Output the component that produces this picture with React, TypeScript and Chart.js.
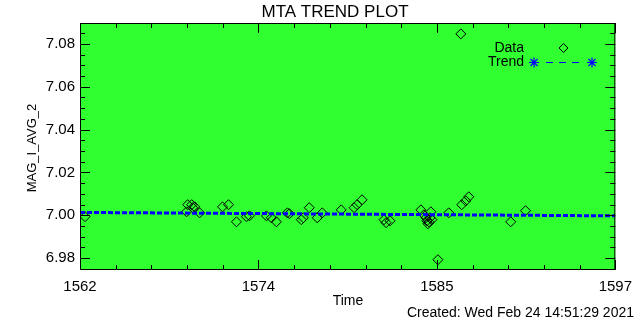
import { useEffect, useRef } from 'react';
import { Chart, registerables } from 'chart.js';

Chart.register(...registerables);

const titleText = 'MTA TREND PLOT';
const xAxisTitle = 'Time';
const yAxisTitle = 'MAG_I_AVG_2';
const createdText = 'Created: Wed Feb 24 14:51:29 2021';
const legendLabels = ['Data', 'Trend'];

const xMin = 1562;
const xMax = 1597;
const yMin = 6.9744;
const yMax = 7.0898;
const xTickValues = [1562, 1573.667, 1585.333, 1597];
const xTickLabels = ['1562', '1574', '1585', '1597'];
const yTickValues = [6.98, 7.0, 7.02, 7.04, 7.06, 7.08];

const dataTime = [
  1562.33, 1568.97, 1569.04, 1569.3, 1569.5, 1569.37, 1569.82, 1571.32, 1571.71, 1572.23,
  1572.88, 1573.08, 1574.19, 1574.51, 1574.84, 1575.56, 1575.69, 1576.47, 1576.6, 1576.99,
  1577.51, 1577.84, 1579.08, 1579.92, 1580.12, 1580.44, 1581.88, 1582.01, 1582.27, 1584.29,
  1584.49, 1584.62, 1584.68, 1584.81, 1584.94, 1584.88, 1585.01, 1584.75, 1585.4, 1586.11,
  1586.96, 1587.22, 1587.42, 1586.9, 1590.16, 1591.13,
];
const dataMag = [
  6.9993, 7.0016, 7.0049, 7.0049, 7.0039, 7.0035, 7.0011, 7.0039, 7.0049, 6.9969,
  6.9993, 6.9997, 6.9997, 6.9988, 6.9969, 7.0011, 7.0007, 6.9979, 6.9988, 7.0035,
  6.9988, 7.0011, 7.0025, 7.0035, 7.0049, 7.0072, 6.9979, 6.9965, 6.9974, 7.0025,
  7.0002, 6.9988, 6.9974, 6.9969, 7.0016, 6.9988, 6.9979, 6.996, 6.9792, 7.0011,
  7.0049, 7.0067, 7.0086, 7.0847, 6.9969, 7.0021,
];
const trendTime = [1562, 1597];
const trendMag = [7.0013, 6.9997];

const FONT = 'Liberation Sans, Arial, sans-serif';

function drawStar(ctx: CanvasRenderingContext2D, cx: number, cy: number, r: number) {
  ctx.beginPath();
  for (let i = 0; i < 4; i++) {
    const a = (i * Math.PI) / 4;
    ctx.moveTo(cx - r * Math.cos(a), cy - r * Math.sin(a));
    ctx.lineTo(cx + r * Math.cos(a), cy + r * Math.sin(a));
  }
  ctx.stroke();
}

const idlPlugin = {
  id: 'idlStyle',
  beforeDraw(chart: any) {
    const { ctx, chartArea } = chart;
    ctx.save();
    ctx.fillStyle = '#ffffff';
    ctx.fillRect(0, 0, chart.width, chart.height);
    ctx.fillStyle = '#30ff30';
    ctx.fillRect(chartArea.left, chartArea.top, chartArea.right - chartArea.left, chartArea.bottom - chartArea.top);
    ctx.restore();
  },
  afterDraw(chart: any) {
    const { ctx, chartArea, scales } = chart;
    const { left, right, top, bottom } = chartArea;
    const x = scales.x;
    const y = scales.y;
    ctx.save();
    ctx.strokeStyle = '#000000';
    ctx.lineWidth = 1;
    ctx.strokeRect(left + 0.5, top + 0.5, right - left - 1, bottom - top - 1);
    ctx.beginPath();
    for (let i = 0; i <= 15; i++) {
      const v = xMin + (i * (xMax - xMin)) / 15;
      const px = Math.round(x.getPixelForValue(v)) + 0.5;
      const len = i % 5 === 0 ? 10 : 5;
      ctx.moveTo(px, bottom);
      ctx.lineTo(px, bottom - len);
      ctx.moveTo(px, top);
      ctx.lineTo(px, top + len);
    }
    for (let k = 0; k <= 30; k++) {
      const v = 6.975 + k * 0.005;
      if (v < yMin || v > yMax) continue;
      const py = Math.round(y.getPixelForValue(v)) + 0.5;
      const major = yTickValues.some((t) => Math.abs(t - v) < 1e-6);
      const len = major ? 10 : 5;
      ctx.moveTo(left, py);
      ctx.lineTo(left + len, py);
      ctx.moveTo(right, py);
      ctx.lineTo(right - len, py);
    }
    ctx.stroke();

    ctx.fillStyle = '#000000';
    ctx.textBaseline = 'middle';
    ctx.textAlign = 'center';
    ctx.font = `17px ${FONT}`;
    ctx.fillText(titleText, 335, 12);
    ctx.font = `14px ${FONT}`;
    ctx.fillText(xAxisTitle, 348, 301);
    ctx.textAlign = 'right';
    ctx.fillText(createdText, 634, 313);
    ctx.save();
    ctx.translate(32, 148);
    ctx.rotate(-Math.PI / 2);
    ctx.textAlign = 'center';
    ctx.font = `13px ${FONT}`;
    ctx.fillText(yAxisTitle, 0, 0);
    ctx.restore();

    ctx.font = `14px ${FONT}`;
    ctx.textAlign = 'right';
    ctx.fillText(legendLabels[0], 524, 48);
    ctx.fillText(legendLabels[1], 524, 62);
    ctx.beginPath();
    ctx.moveTo(563.5, 43.5);
    ctx.lineTo(568, 48);
    ctx.lineTo(563.5, 52.5);
    ctx.lineTo(559, 48);
    ctx.closePath();
    ctx.stroke();
    ctx.strokeStyle = '#0000ff';
    ctx.lineWidth = 1.2;
    drawStar(ctx, 534, 62.5, 5);
    drawStar(ctx, 592, 62.5, 5);
    ctx.setLineDash([7, 6]);
    ctx.beginPath();
    ctx.moveTo(546, 62.5);
    ctx.lineTo(580, 62.5);
    ctx.stroke();
    ctx.restore();
  },
};

export default function App() {
  const ref = useRef<HTMLCanvasElement>(null);
  useEffect(() => {
    document.body.style.margin = '0';
    const chart = new Chart(ref.current!, {
      type: 'scatter',
      data: {
        datasets: [
          {
            label: 'Trend',
            data: trendTime.map((t, i) => ({ x: t, y: trendMag[i] })),
            showLine: true,
            borderColor: '#0000ff',
            borderWidth: 3,
            borderDash: [5, 2],
            pointRadius: 0,
          },
          {
            label: 'Data',
            data: dataTime.map((t, i) => ({ x: t, y: dataMag[i] })),
            pointStyle: 'rectRot',
            pointRadius: 5,
            borderColor: '#000000',
            borderWidth: 1,
            backgroundColor: 'rgba(0,0,0,0)',
          },
        ],
      },
      options: {
        responsive: false,
        animation: false,
        devicePixelRatio: 1,
        layout: { padding: { top: 23, right: 23, left: 0, bottom: 0 } },
        plugins: { legend: { display: false }, tooltip: { enabled: false }, title: { display: false } },
        scales: {
          x: {
            type: 'linear',
            min: xMin,
            max: xMax,
            afterBuildTicks: (s: any) => {
              s.ticks = xTickValues.map((v) => ({ value: v }));
            },
            afterFit: (s: any) => {
              s.height = 50;
            },
            ticks: {
              callback: (_v: any, i: number) => xTickLabels[i],
              color: '#000000',
              font: { family: FONT, size: 15 },
              padding: 8,
              maxRotation: 0,
              autoSkip: false,
            },
            grid: { display: false, drawTicks: false },
            border: { display: false },
          },
          y: {
            type: 'linear',
            min: yMin,
            max: yMax,
            afterBuildTicks: (s: any) => {
              s.ticks = yTickValues.map((v) => ({ value: v }));
            },
            afterFit: (s: any) => {
              s.width = 80;
            },
            ticks: {
              callback: (v: any) => Number(v).toFixed(2),
              color: '#000000',
              font: { family: FONT, size: 15 },
              padding: 5,
              autoSkip: false,
            },
            grid: { display: false, drawTicks: false },
            border: { display: false },
          },
        },
      } as any,
      plugins: [idlPlugin],
    });
    return () => chart.destroy();
  }, []);
  return <canvas ref={ref} width={640} height={320} style={{ display: 'block', width: 640, height: 320 }} />;
}
